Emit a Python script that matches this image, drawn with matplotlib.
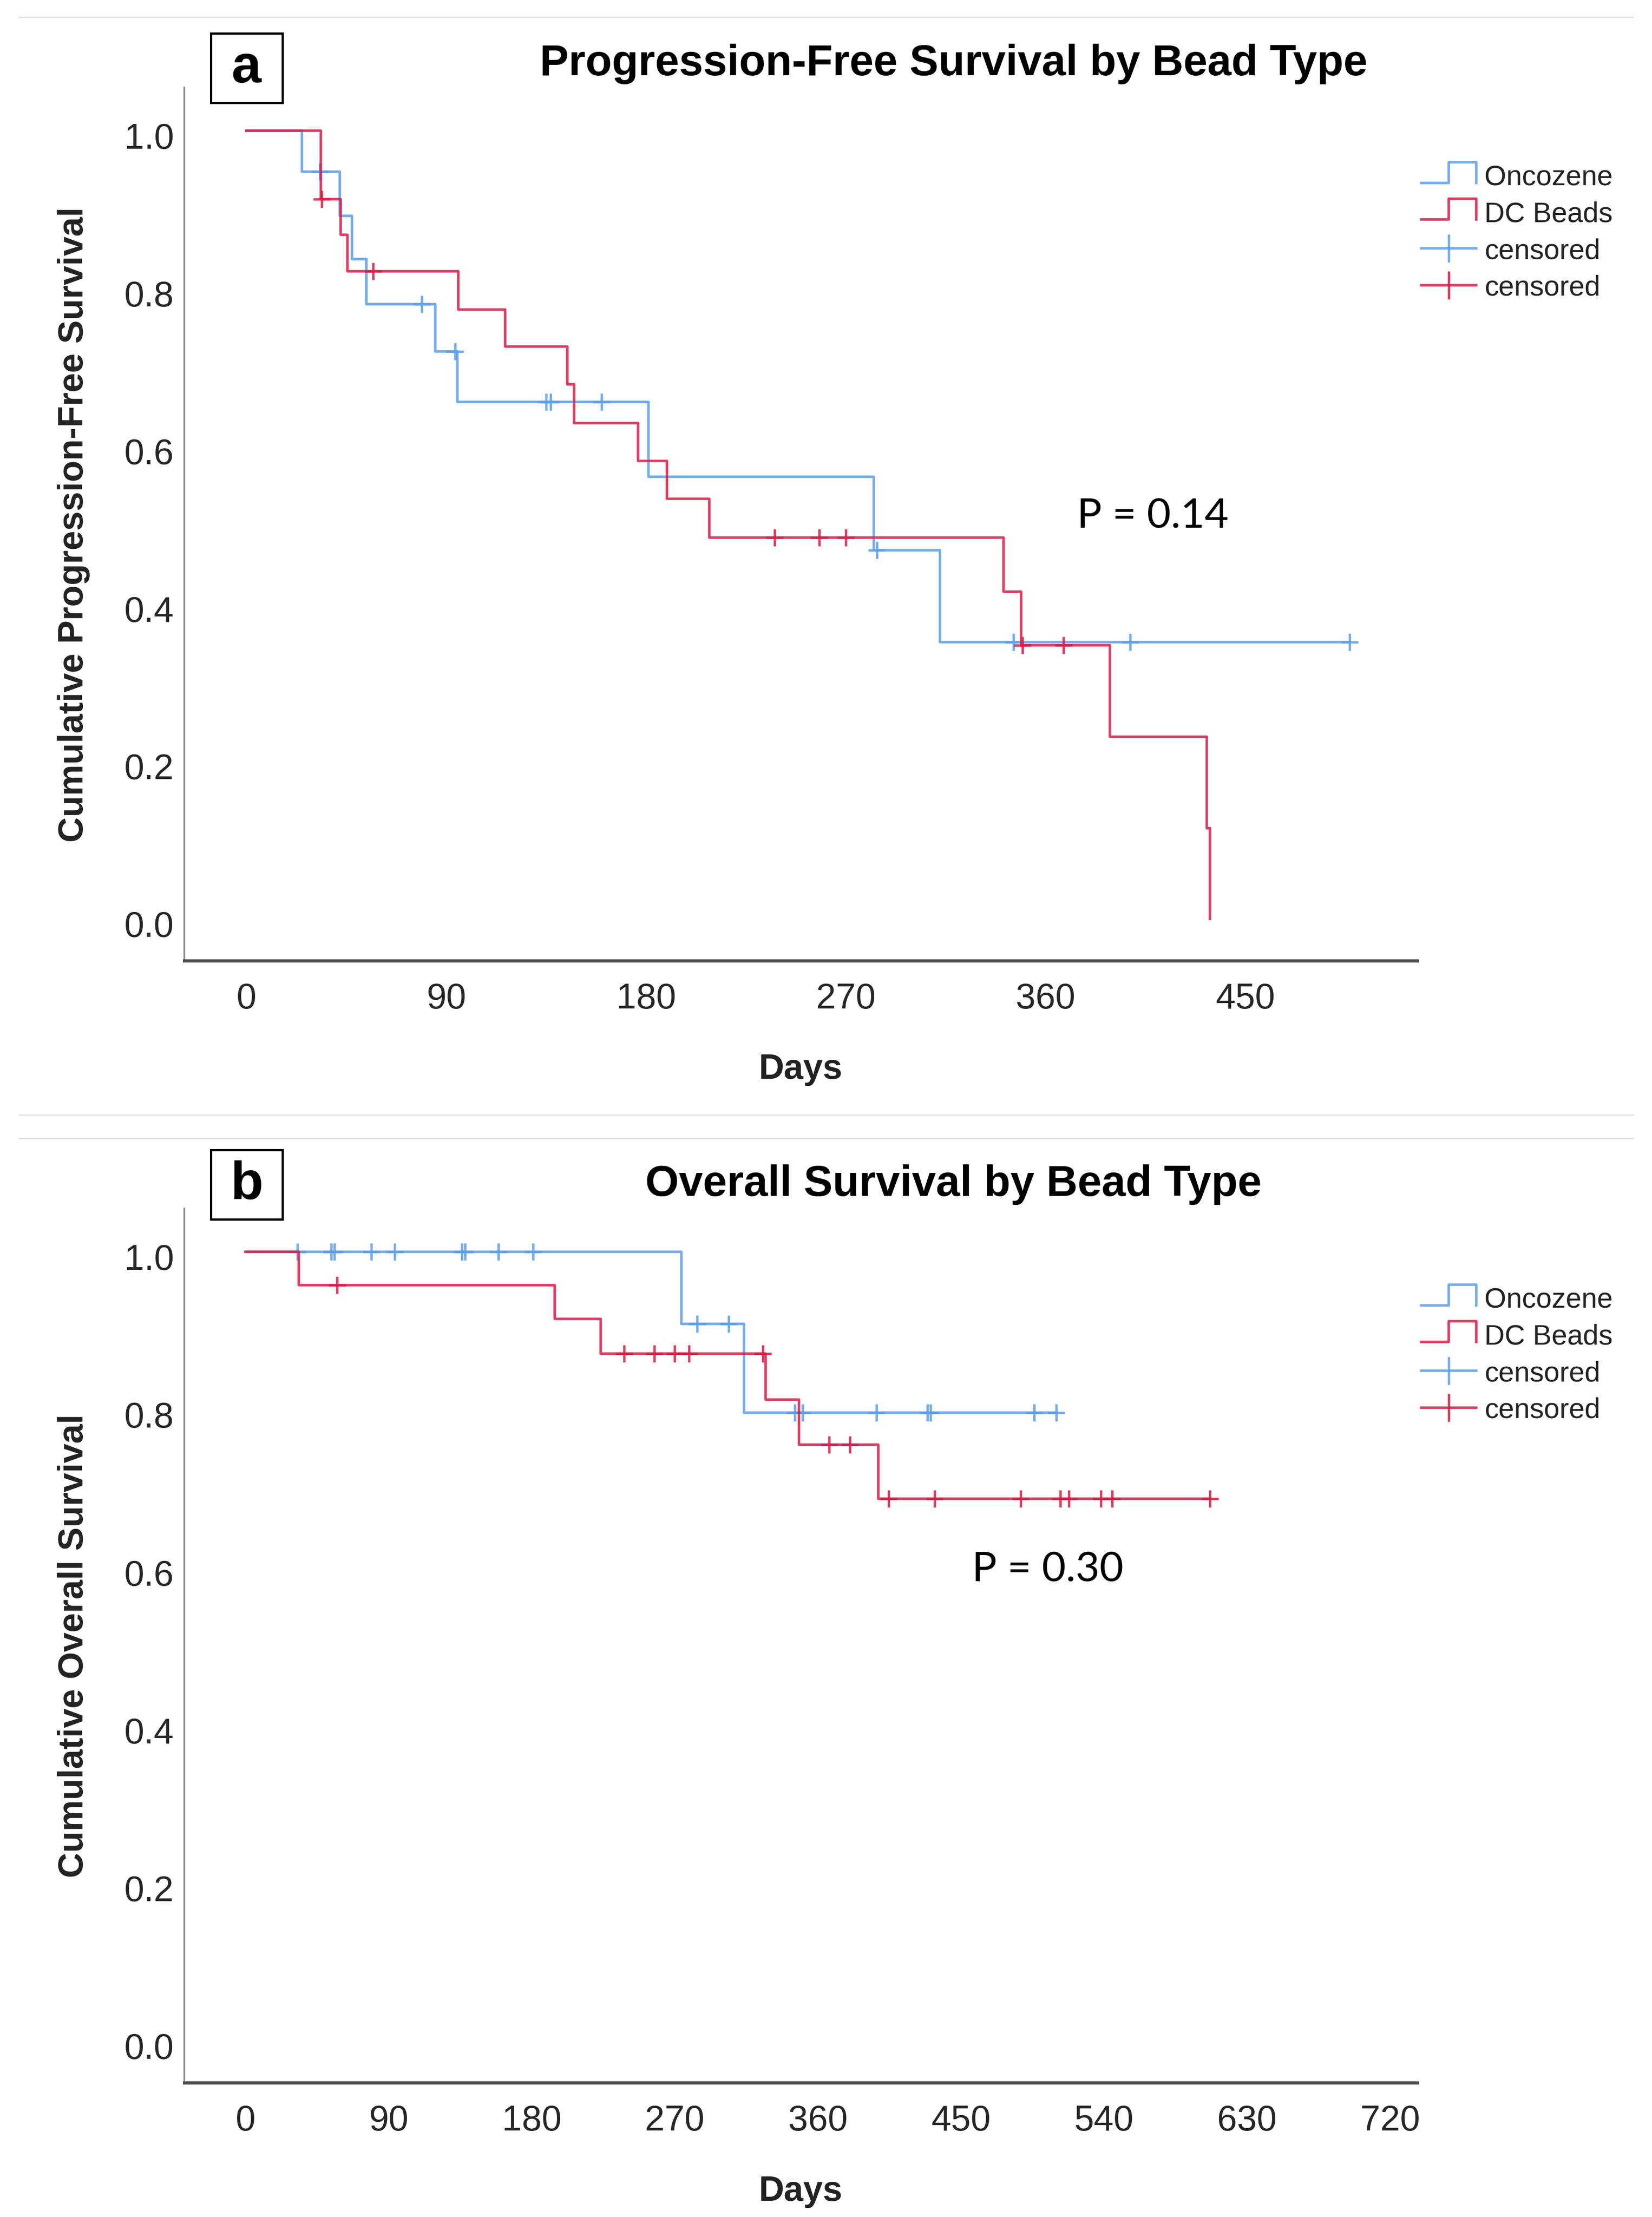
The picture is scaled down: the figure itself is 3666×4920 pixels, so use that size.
import numpy as np
import matplotlib
matplotlib.use("Agg")
import matplotlib.pyplot as plt
from matplotlib.lines import Line2D
from matplotlib.patches import Rectangle
from matplotlib.legend_handler import HandlerBase
from matplotlib.transforms import ScaledTranslation

plt.rcParams['font.family'] = ['Liberation Sans', 'DejaVu Sans']

# progression-free survival: event days and survival after each event
pfs_onc_days = [25, 42, 47.5, 54, 85, 95, 181, 282.5, 312.5]
pfs_onc_surv = [0.948, 0.892, 0.837, 0.780, 0.720, 0.656, 0.561, 0.468, 0.351]
pfs_onc_cens = [33, 79, 94, 135, 137, 160, 284, 345.5, 398, 497]

pfs_dc_days = [33.5, 42.5, 45.5, 95.5, 116.5, 144.5, 147.5, 176.5, 189.5, 208.5, 341, 349, 389, 432.5, 434]
pfs_dc_surv = [0.913, 0.868, 0.822, 0.773, 0.726, 0.678, 0.629, 0.581, 0.533, 0.484, 0.415, 0.347, 0.231, 0.115, 0.0]
pfs_dc_cens = [34, 57, 238, 258, 270, 349.5, 368]

# overall survival
os_onc_days = [274, 313.5]
os_onc_surv = [0.909, 0.796]
os_onc_cens = [32.5, 54, 56, 79, 94, 136, 138, 159, 181, 284, 304, 345.5, 350.5,
               397, 429, 431, 496, 510]

os_dc_days = [33.5, 194.5, 223.5, 327, 348, 398]
os_dc_surv = [0.958, 0.915, 0.871, 0.813, 0.756, 0.687]
os_dc_cens = [57.5, 238, 257, 270, 279, 325.5, 367, 380, 404.5, 433.5, 487.5,
              512.5, 518, 538, 545, 606.5]

group_names = ['Oncozene', 'DC Beads']
p_values = ['P = 0.14', 'P = 0.30']

blue = '#5C9EE8'
red = '#D81B45'
txt = '#222222'


def km_line(ax, days, surv, cens, color):
    end = max(days + cens)
    x = [0] + days + [end]
    y = [1.0] + surv + [surv[-1]]
    ax.step(x, y, where='post', color=color, lw=1.35, alpha=0.85)
    idx = np.searchsorted(days, cens, side='right')
    levels = np.concatenate([[1.0], surv])[idx]
    ax.plot(cens, levels, ls='none', marker='+', ms=9, mew=1.3, color=color, alpha=0.85)


class StepHandler(HandlerBase):
    def create_artists(self, legend, orig_handle, xdescent, ydescent,
                       width, height, fontsize, trans):
        x0, y0 = -xdescent, -ydescent
        lo = y0 + 0.1 * height
        hi = y0 + 1.15 * height
        xs = [x0, x0 + width * 0.5, x0 + width * 0.5, x0 + width, x0 + width]
        ys = [lo, lo, hi, hi, lo]
        ln = Line2D(xs, ys, color=orig_handle.get_color(),
                    lw=orig_handle.get_linewidth(), alpha=orig_handle.get_alpha())
        ln.set_transform(trans)
        return [ln]


def add_legend(ax, fig, ytop):
    h1 = Line2D([], [], color=blue, lw=1.35, alpha=0.85)
    h2 = Line2D([], [], color=red, lw=1.35, alpha=0.85)
    h3 = Line2D([], [], color=blue, lw=1.35, alpha=0.85, marker='|', ms=15, mew=1.3)
    h4 = Line2D([], [], color=red, lw=1.35, alpha=0.85, marker='|', ms=15, mew=1.3)
    leg = ax.legend([h1, h2, h3, h4], group_names + ['censored', 'censored'],
                    handler_map={h1: StepHandler(), h2: StepHandler()},
                    loc='upper left', bbox_to_anchor=(0.8603, ytop),
                    bbox_transform=fig.transFigure, frameon=False, fontsize=15,
                    handlelength=1.95, handletextpad=0.3, labelspacing=0.36,
                    borderpad=0, borderaxespad=0, numpoints=1)
    for t in leg.get_texts():
        t.set_color(txt)


def style_axes(ax, fig, xlim, xmax, ylabel):
    ax.set_xlim(*xlim)
    ax.set_ylim(-0.053, 1.055)
    ax.set_xticks(np.arange(0, xmax + 1, 90))
    ax.set_yticks(np.arange(0, 1.01, 0.2))
    ax.set_yticklabels(['%.1f' % v for v in np.arange(0, 1.01, 0.2)])
    for s in ['top', 'right']:
        ax.spines[s].set_visible(False)
    ax.spines['left'].set_color('#8c8c8c')
    ax.spines['left'].set_linewidth(0.9)
    ax.spines['bottom'].set_color('#4a4a4a')
    ax.spines['bottom'].set_linewidth(1.7)
    ax.tick_params(axis='both', length=0, labelsize=19, labelcolor='#262626')
    ax.tick_params(axis='x', pad=11.3)
    ax.tick_params(axis='y', pad=5.5)
    # SPSS puts the y labels a little under the grid value
    shift = ScaledTranslation(0, -2.4 / 72, fig.dpi_scale_trans)
    for lab in ax.get_yticklabels():
        lab.set_transform(lab.get_transform() + shift)
    ax.set_xlabel('Days', fontsize=18.7, fontweight='bold', color=txt, va='center')
    ax.xaxis.set_label_coords(0.5, -0.124)
    ax.set_ylabel(ylabel, fontsize=18.7, fontweight='bold', color=txt, va='center')
    ax.yaxis.set_label_coords(-0.0899, 0.5)


fig = plt.figure(figsize=(12.22, 16.4033), dpi=300)

# separator lines of the output frame
for yy in [0.99207, 0.49713, 0.48649]:
    fig.add_artist(Line2D([0.01146, 0.98854], [yy, yy], transform=fig.transFigure,
                          color='#dedede', lw=0.6))

ax1 = fig.add_axes([0.11157, 0.56655, 0.74632, 0.39382])
km_line(ax1, pfs_onc_days, pfs_onc_surv, pfs_onc_cens, blue)
km_line(ax1, pfs_dc_days, pfs_dc_surv, pfs_dc_cens, red)
style_axes(ax1, fig, (-28.0, 527.4), 450, 'Cumulative Progression-Free Survival')
ax1.text(408.2, 0.4966, p_values[0], family=['Lato', 'DejaVu Sans'], fontsize=22,
         ha='center', va='baseline', color='black')
add_legend(ax1, fig, 0.9258)

ax2 = fig.add_axes([0.11157, 0.06056, 0.74632, 0.39423])
km_line(ax2, os_onc_days, os_onc_surv, os_onc_cens, blue)
km_line(ax2, os_dc_days, os_dc_surv, os_dc_cens, red)
style_axes(ax2, fig, (-38.5, 737.0), 720, 'Cumulative Overall Survival')
ax2.text(504.5, 0.583, p_values[1], family=['Lato', 'DejaVu Sans'], fontsize=22,
         ha='center', va='baseline', color='black')
add_legend(ax2, fig, 0.4196)

# titles and panel letters
fig.text(0.5772, 0.96606, 'Progression-Free Survival by Bead Type', fontsize=23,
         fontweight='bold', ha='center', va='baseline', color='black')
fig.text(0.5772, 0.4607, 'Overall Survival by Bead Type', fontsize=23,
         fontweight='bold', ha='center', va='baseline', color='black')

for bottom, base, letter in [(0.95346, 0.96281, 'a'), (0.44991, 0.45926, 'b')]:
    fig.add_artist(Rectangle((0.12766, bottom), 0.04337, 0.03129, transform=fig.transFigure,
                             fill=False, edgecolor='black', lw=1.2))
    fig.text(0.14921, base, letter, fontsize=28.5, fontweight='bold', ha='center',
             va='baseline', color='black')

fig.savefig('out.png', dpi=300, facecolor='white')
